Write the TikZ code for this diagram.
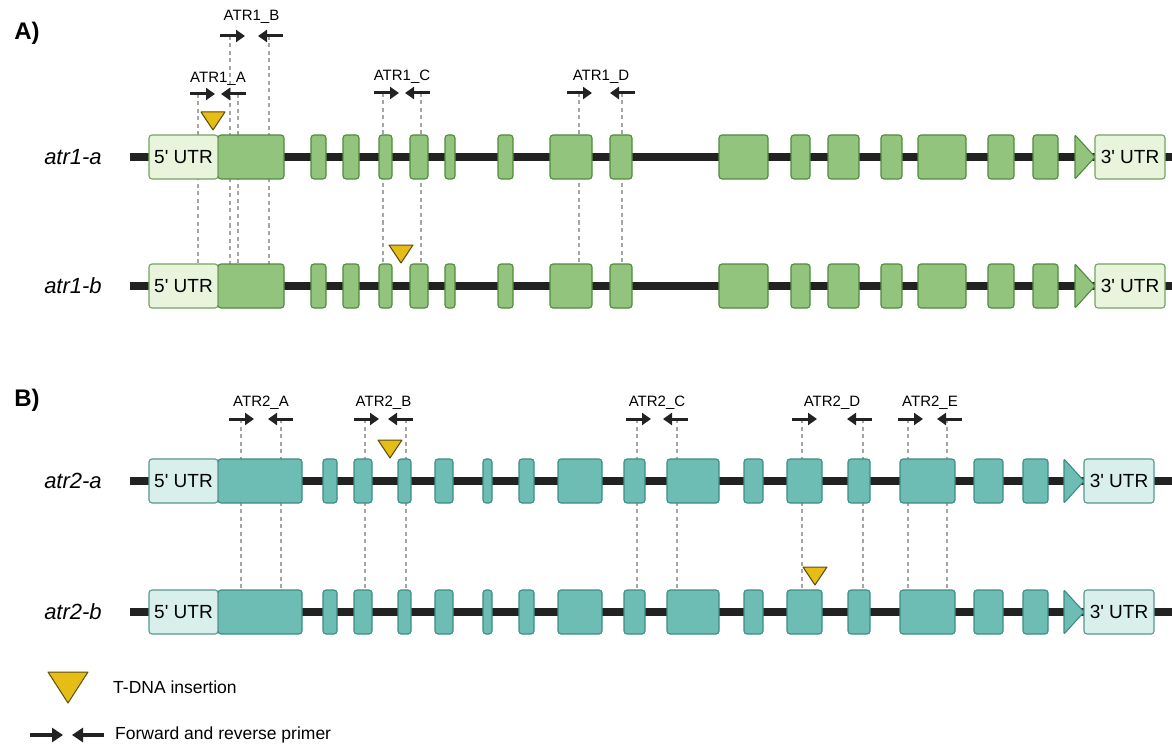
\documentclass[tikz,border=0pt]{standalone}
\usepackage{fontspec}
\setmainfont{Liberation Sans}[Ligatures=TeXOff]
\usetikzlibrary{arrows.meta}
\definecolor{gfill}{HTML}{93C47D}
\definecolor{gborder}{HTML}{4F8A3C}
\definecolor{ugfill}{HTML}{E9F4DC}
\definecolor{ugborder}{HTML}{76A262}
\definecolor{tfill}{HTML}{6DBDB4}
\definecolor{tborder}{HTML}{3E8C83}
\definecolor{utfill}{HTML}{D8EFEC}
\definecolor{utborder}{HTML}{57988F}
\definecolor{tdfill}{HTML}{E6BC17}
\definecolor{tdborder}{HTML}{5C4D10}
\definecolor{ink}{HTML}{222222}
\tikzset{
 intron/.style={draw=ink, line width=8pt},
 exonG/.style={draw=gborder, fill=gfill, line width=1.1pt, rounded corners=3pt},
 exonT/.style={draw=tborder, fill=tfill, line width=1.1pt, rounded corners=3pt},
 utrG/.style={draw=ugborder, fill=ugfill, line width=1.1pt, rounded corners=3pt, inner sep=0pt,
   font=\fontsize{19}{19}\selectfont, minimum width=69pt, minimum height=44pt},
 utrT/.style={draw=utborder, fill=utfill, line width=1.1pt, rounded corners=3pt, inner sep=0pt,
   font=\fontsize{19}{19}\selectfont, minimum width=69pt, minimum height=44pt},
 gapline/.style={draw=gray!70, line width=1.8pt, dash pattern=on 4pt off 3.5pt},
 primer/.style={draw=ink, line width=3pt, -{Triangle[length=9pt,width=12pt]}},
 legarrow/.style={draw=ink, line width=3.5pt, -{Triangle[length=11pt,width=14pt]}},
 plabel/.style={font=\fontsize{15}{15}\selectfont, inner sep=0pt},
 glabel/.style={font=\fontsize{22}{22}\selectfont\itshape, inner sep=0pt},
 panel/.style={font=\fontsize{24}{24}\selectfont\bfseries, inner sep=0pt},
 legtext/.style={font=\fontsize{17.5}{17.5}\selectfont, inner sep=0pt, anchor=west},
 tdna/.style={draw=tdborder, fill=tdfill, line width=1pt, line join=round},
}
% #1 name, #2 y, #3 G/T, #4 exon list macro, #5 triangle start x, #6 label
\newcommand{\generow}[6]{%
 \node[glabel] (#1lab) at (73,#2) {#6};
 \coordinate (#1start) at (130,#2);
 \coordinate (#1end) at (1172,#2);
 \draw[intron] (#1start) -- (#1end);
 \foreach \xa/\xb in #4 { \draw[exon#3] (\xa,#2-22) rectangle (\xb,#2+22); }
 \node[utr#3] (#1utrfive) at (183.5,#2) {5' UTR};
 \draw[exon#3, rounded corners=1pt] (#5,#2-22) -- (#5+20,#2) -- (#5,#2+22) -- cycle;
 \node[utr#3, minimum width=70pt] (#1utrthree) at (#5+55,#2) {3' UTR};
}
% #1 x fwd start, #2 x rev start, #3 y, #4 label, #5 label y, #6 name
\newcommand{\primerpair}[6]{%
 \coordinate (#6f) at (#1,#3);
 \coordinate (#6r) at (#2,#3);
 \draw[primer] (#6f) -- ++(25,0);
 \draw[primer] (#6r) -- ++(-25,0);
 \node[plabel] (#6lab) at ({(#1+#2)/2},#5) {#4};
}
\newcommand{\tdnamark}[3]{% #1 name, #2 x centre, #3 y top
 \draw[tdna] (#2-12,#3) -- (#2+12,#3) -- (#2,#3+18) -- cycle;
 \coordinate (#1) at (#2,#3);
}
\def\exonsA{218/284,311/326,343/359,379/392,410/428,445/455,498/513,550/592,610/632,719/768,791/810,828/859,881/902,918/966,988/1014,1033/1058}
\def\exonsB{218/302,323/337,354/372,398/411,435/453,483/492,519/534,558/602,624/645,667/719,744/763,787/822,848/870,900/955,974/1003,1023/1048}
\begin{document}
\begin{tikzpicture}[x=1pt,y=-1pt]
\useasboundingbox (0,0) rectangle (1172,746);
\fill[white] (0,0) rectangle (1172,746);

% panel labels
\node[panel] (pA) at (27,33) {A)};
\node[panel] (pB) at (27,400) {B)};

% dashed guide lines, panel A
\foreach \x/\ys [count=\i] in {198/94,230/36,238/94,269/36,383/93,421/93,579/93,622/93} {
  \coordinate (ga\i) at (\x,\ys);
  \coordinate (gb\i) at (\x,264);
  \draw[gapline] (ga\i) -- (gb\i);
}
% dashed guide lines, panel B
\foreach \x [count=\i] in {241,281,365,406,637,677,802,863,908,947} {
  \coordinate (ha\i) at (\x,419);
  \coordinate (hb\i) at (\x,590);
  \draw[gapline] (ha\i) -- (hb\i);
}

% gene rows
\generow{ra}{157}{G}{\exonsA}{1075}{atr1-a}
\generow{rb}{286}{G}{\exonsA}{1075}{atr1-b}
\generow{rc}{481}{T}{\exonsB}{1064}{atr2-a}
\generow{rd}{612}{T}{\exonsB}{1064}{atr2-b}

% T-DNA insertions
\tdnamark{ta}{213}{112}
\tdnamark{tb}{401}{245}
\tdnamark{tc}{390}{440}
\tdnamark{td}{815}{567}

% primers
\primerpair{190}{246}{94}{ATR1\_A}{79}{pa}
\primerpair{220}{283}{36}{ATR1\_B}{17}{pb}
\primerpair{374}{430}{93}{ATR1\_C}{77}{pc}
\primerpair{567}{635}{93}{ATR1\_D}{77}{pd}
\primerpair{229}{293}{419}{ATR2\_A}{403}{qa}
\primerpair{354}{413}{419}{ATR2\_B}{403}{qb}
\primerpair{626}{688}{419}{ATR2\_C}{403}{qc}
\primerpair{792}{872}{419}{ATR2\_D}{403}{qd}
\primerpair{898}{962}{419}{ATR2\_E}{403}{qe}

% legend
\draw[tdna] (48,672) -- (88,672) -- (68,703) -- cycle;
\node[legtext] (lt1) at (113,687) {T-DNA insertion};
\coordinate (lf) at (30,735);
\coordinate (lr) at (104,735);
\draw[legarrow] (lf) -- ++(33,0);
\draw[legarrow] (lr) -- ++(-32,0);
\node[legtext] (lt2) at (115,735) {Forward and reverse primer};
\end{tikzpicture}
\end{document}
